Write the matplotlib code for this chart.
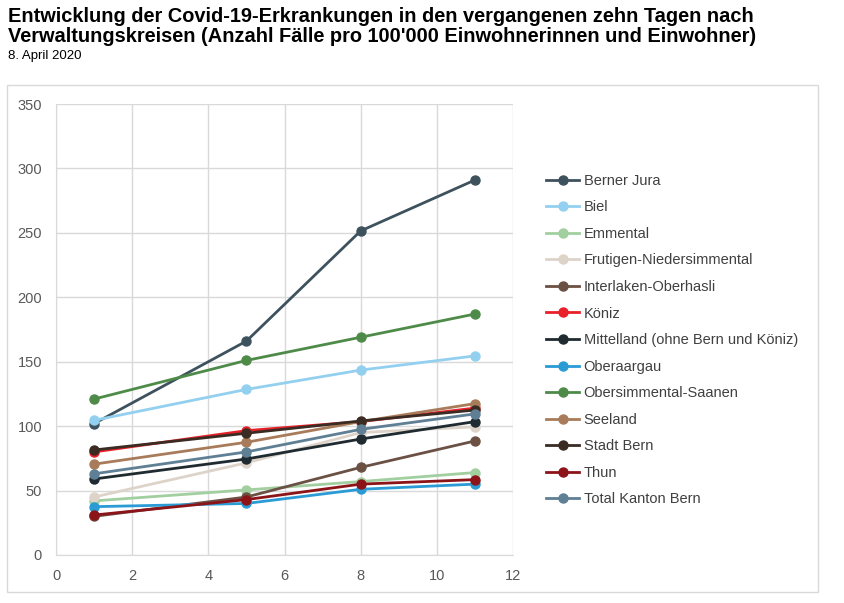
import matplotlib.pyplot as plt
from matplotlib.patches import Rectangle

## Daten
tage = [1, 5, 8, 11]
kreise = ['Berner Jura', 'Biel', 'Emmental', 'Frutigen-Niedersimmental',
          'Interlaken-Oberhasli', 'Köniz', 'Mittelland (ohne Bern und Köniz)',
          'Oberaargau', 'Obersimmental-Saanen', 'Seeland', 'Stadt Bern',
          'Thun', 'Total Kanton Bern']
berner_jura = [102, 166, 251.5, 291]
biel = [104.5, 128.5, 143.5, 154.5]
emmental = [42, 50.5, 57, 64]
frutigen = [45, 71.5, 95, 99.5]
interlaken = [30, 45, 68, 88.5]
koeniz = [80, 96.5, 103.5, 114]
mittelland = [59, 74.5, 90, 103.5]
oberaargau = [37.5, 40, 51, 55]
obersimmental = [121, 151, 169, 187]
seeland = [70.5, 87.5, 103.5, 117.5]
stadt_bern = [81.5, 94.5, 104, 112.5]
thun = [31, 43, 55, 58.5]
total = [63, 80, 97.5, 109.5]

werte = [berner_jura, biel, emmental, frutigen, interlaken, koeniz, mittelland,
         oberaargau, obersimmental, seeland, stadt_bern, thun, total]
farben = ['#3e525e', '#93d0ef', '#a2cf9f', '#ddd3c9', '#6b5044', '#e8202a',
          '#1f2b30', '#2a9bd4', '#4e8b49', '#a87c5b', '#3a2c23', '#8c1419',
          '#5f7f95']

plt.rcParams['font.family'] = ['Liberation Sans', 'DejaVu Sans']

fig = plt.figure(figsize=(8.44, 6.03), dpi=100)

# Rahmen um das Diagramm
fig.patches.append(Rectangle((7 / 844, 1 - 592 / 603), 811 / 844, 507 / 603,
                             transform=fig.transFigure, fill=False,
                             edgecolor='#d9d9d9', linewidth=1.0))

ax = fig.add_axes([56 / 844, 1 - 555 / 603, 457 / 844, 451 / 603])
for name, y, c in zip(kreise, werte, farben):
    ax.plot(tage, y, '-o', color=c, linewidth=2.0, markersize=6.5, label=name)

ax.set_xlim(0, 12)
ax.set_ylim(0, 350)
ax.set_xticks(range(0, 13, 2))
ax.set_yticks(range(0, 351, 50))
ax.grid(True, color='#d9d9d9', linewidth=1.0)
ax.set_axisbelow(True)
for s in ['top', 'right']:
    ax.spines[s].set_visible(False)
for s in ['left', 'bottom']:
    ax.spines[s].set_color('#d9d9d9')
ax.tick_params(length=0, labelsize=10.5, labelcolor='#595959', pad=10)

leg = ax.legend(loc='upper left', bbox_to_anchor=(540 / 844, 1 - 168 / 603),
                bbox_transform=fig.transFigure, frameon=False, fontsize=10.5,
                handlelength=2.3, handletextpad=0.3, labelspacing=0.86,
                borderaxespad=0)
for t in leg.get_texts():
    t.set_color('#404040')

fig.text(8 / 844, 1 - 7 / 603,
         'Entwicklung der Covid-19-Erkrankungen in den vergangenen zehn Tagen nach\n'
         'Verwaltungskreisen (Anzahl Fälle pro 100\'000 Einwohnerinnen und Einwohner)',
         fontsize=14.4, fontweight='bold', va='top', ha='left', linespacing=1.1)
fig.text(8 / 844, 1 - 50 / 603, '8. April 2020', fontsize=9.5, va='top', ha='left')

fig.savefig('out.png', dpi=100)
